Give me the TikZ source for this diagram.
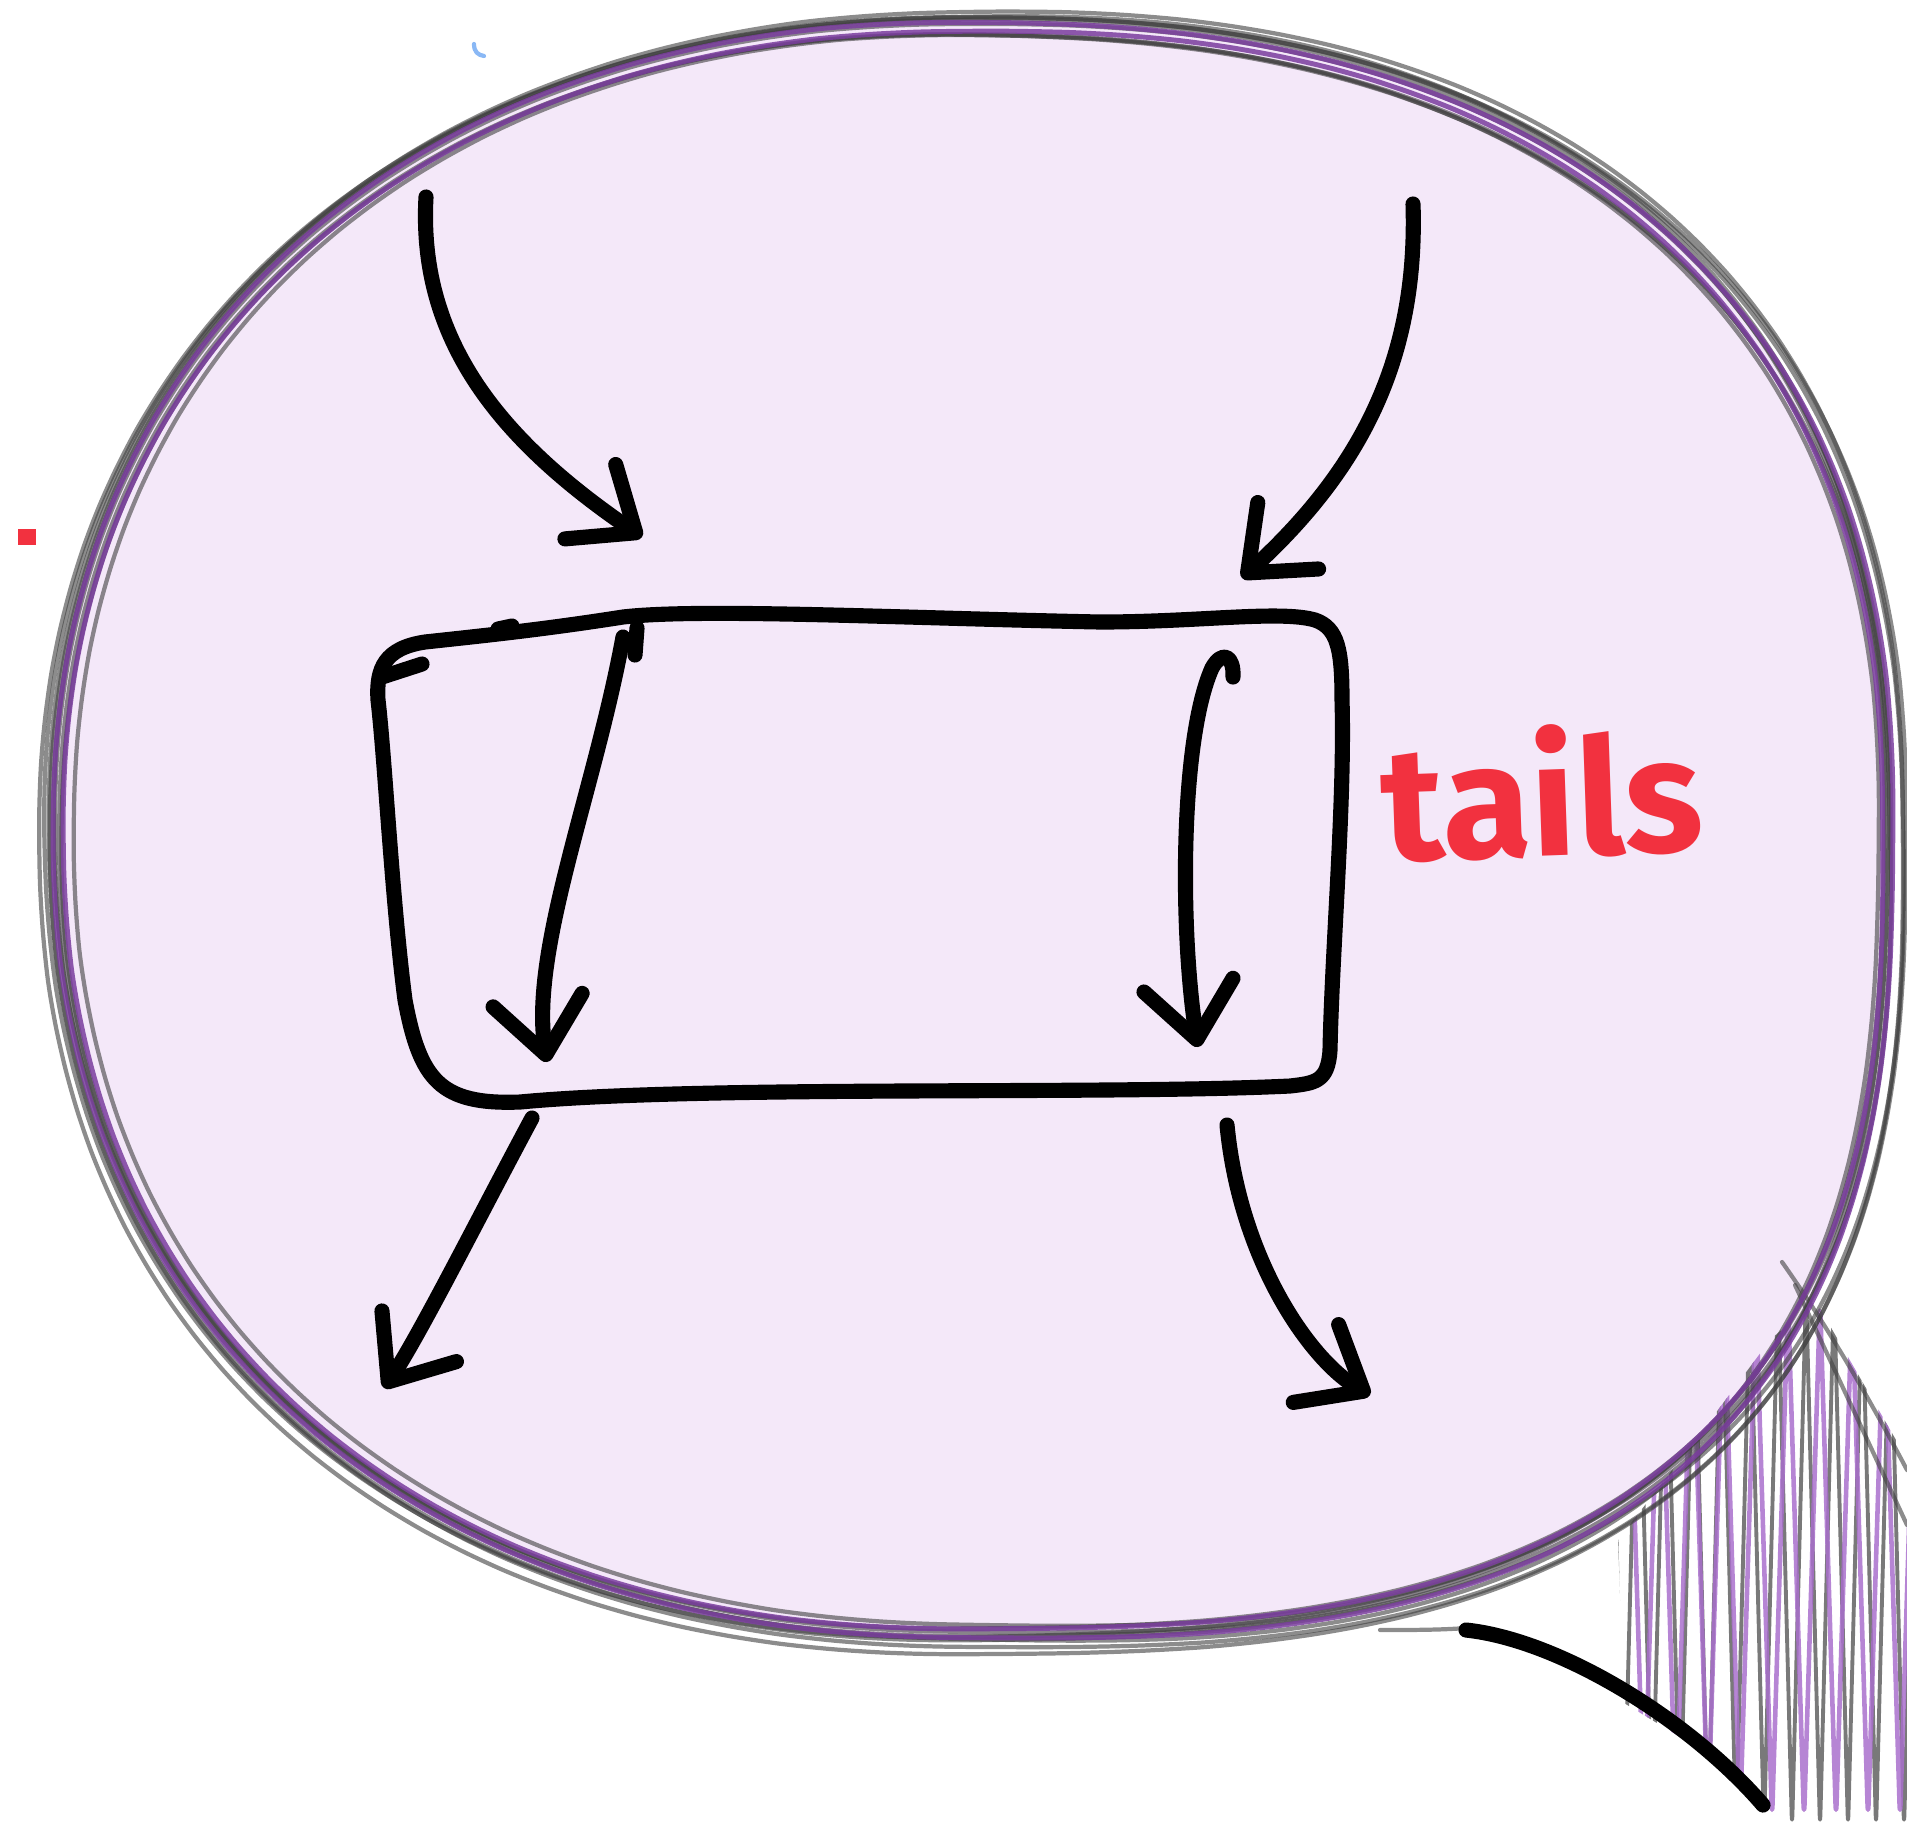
\documentclass[tikz,border=0pt]{standalone}
\usepackage{fontspec}
\newfontfamily\handfont{Fira Sans}
\usetikzlibrary{arrows.meta,positioning}
\definecolor{bubbleFill}{HTML}{F4E8F9}
\definecolor{bubblePurple}{HTML}{7A3D9E}
\definecolor{hatchPurple}{HTML}{A970CC}
\definecolor{pencilGray}{HTML}{404040}
\definecolor{tailsRed}{HTML}{F2313F}
\definecolor{markBlue}{HTML}{8AB8F5}
% rounded bubble, rounder top left, fuller towards the tail (lower right)
\newcommand{\bubbleoutline}{plot[smooth cycle, domain=1:358, samples=120]
  ({973+918*sign(cos(\x))*abs(cos(\x))^qe(\x)},
   {830+806*sign(sin(\x))*abs(sin(\x))^qe(\x)})}

\begin{document}
\begin{tikzpicture}[x=0.01cm, y=-0.01cm,
    declare function={qe(\t)=0.84+0.07*(cos(\t)<0)*(sin(\t)<0)+0.06*(cos(\t)<0)*(sin(\t)>0)-0.12*(cos(\t)>0)*(sin(\t)>0);},
    pen/.style={line width=4.3pt, line cap=round, line join=round},
    arrowpen/.style={pen, -{Straight Barb[length=5.5mm, width=9mm, round]}},
    pencil/.style={pencilGray, line width=1.2pt, opacity=0.6, line cap=round},
    hatchgray/.style={pencilGray, line width=1.1pt, opacity=0.7, line join=round, rounded corners=5pt},
    hatchpurple/.style={hatchPurple, line width=1.3pt, opacity=0.85, line join=round, rounded corners=5pt},
    tailslabel/.style={text=tailsRed, font=\handfont\bfseries\fontsize{46}{46}\selectfont, inner sep=0pt}]
  \useasboundingbox (0,0) rectangle (1907,1839);

  % Bubble fill
  \fill[bubbleFill] \bubbleoutline;

  % Hatched tail
  \begin{scope}
    \clip (1618,1540) -- (1703,1430) -- (1770,1340) -- (1815,1300) -- (1907,1459) -- (1907,1839) -- (1800,1839) -- (1703,1751) -- (1624,1703) -- cycle;
    \draw[hatchgray] (1610,1290) \foreach \i in {1,...,11} { -- ++(14,540) -- ++(14,-540) };
    \draw[hatchpurple] (1628,1300) \foreach \i in {1,...,9} { -- ++(16,520) -- ++(16,-520) };
  \end{scope}
  \draw[pencil] (1782,1262) .. controls (1830,1330) and (1870,1400) .. (1907,1470);
  \draw[pencil] (1795,1285) -- (1907,1525);
  \draw[pencil] (1380,1630) .. controls (1410,1630) and (1440,1630) .. (1466,1628);

  % Sketchy outline of the bubble
  \foreach \s/\r/\dx/\dy in {1.000/0/0/0, 1.010/0.8/3/-4, 0.991/-0.7/-4/3, 1.015/0.3/-2/6,
      0.986/-1.0/6/0, 1.005/1.3/-6/-3, 0.995/-1.4/2/7, 1.011/-0.4/5/2, 0.998/0.5/-3/-6}
    \draw[pencil, shift={(973+\dx,830+\dy)}, rotate=\r, scale=\s, shift={(-973,-830)}] \bubbleoutline;
  \foreach \s/\r in {0.991/0.2, 1.002/-0.5}
    \draw[bubblePurple, line width=1.4pt, opacity=0.85, shift={(973,830)}, rotate=\r, scale=\s, shift={(-973,-830)}] \bubbleoutline;

  % Stray marks
  \draw[markBlue, line width=1.2pt, line cap=round] (474,44) .. controls (474,52) and (478,55) .. (484,56);
  \fill[tailsRed] (18,529) rectangle (36,545);

  % The box
  \draw[pen] (378,700) .. controls (376,668) and (385,648) .. (425,642)
    .. controls (480,636) and (540,630) .. (623,617)
    .. controls (700,608) and (900,618) .. (1100,622)
    .. controls (1200,622) and (1280,610) .. (1315,620)
    .. controls (1338,628) and (1342,650) .. (1342,700)
    .. controls (1345,800) and (1332,950) .. (1330,1050)
    .. controls (1328,1082) and (1315,1083) .. (1290,1086)
    .. controls (1100,1095) and (700,1085) .. (520,1102)
    .. controls (440,1105) and (420,1080) .. (405,1000)
    .. controls (392,900) and (385,760) .. (378,700) -- cycle;
  \draw[pen] (382,677) -- (422,664);
  \draw[pen] (498,629) -- (512,626);
  \draw[pen] (637,628) -- (635,655);

  % Arrows
  \coordinate (tlStart) at (426,197);
  \coordinate (tlTip) at (642,537);
  \coordinate (trStart) at (1413,204);
  \coordinate (trTip) at (1242,578);
  \coordinate (ilStart) at (623,637);
  \coordinate (ilTip) at (547,1062);
  \coordinate (irStart) at (1233,677);
  \coordinate (irTip) at (1198,1047);
  \coordinate (blStart) at (532,1118);
  \coordinate (blTip) at (384,1388);
  \coordinate (brStart) at (1227,1125);
  \coordinate (brTip) at (1370,1395);
  \draw[arrowpen] (tlStart) .. controls (418,340) and (500,440) .. (tlTip);
  \draw[arrowpen] (trStart) .. controls (1418,360) and (1360,470) .. (trTip);
  \draw[arrowpen] (ilStart) .. controls (595,790) and (530,950) .. (ilTip);
  \draw[arrowpen] (irStart) .. controls (1234,655) and (1222,650) .. (1212,668)
    .. controls (1180,740) and (1180,930) .. (irTip);
  \draw[arrowpen] (blStart) .. controls (480,1215) and (418,1338) .. (blTip);
  \draw[arrowpen] (brStart) .. controls (1240,1260) and (1310,1360) .. (brTip);

  % Tail
  \coordinate (tailTop) at (1466,1630);
  \coordinate (tailEnd) at (1763,1805);
  \draw[pen] (tailTop) .. controls (1560,1640) and (1690,1720) .. (tailEnd);

  % Label
  \node[tailslabel, anchor=base west, rotate=2] (tailsText) at (1383,862) {tails};
\end{tikzpicture}
\end{document}
